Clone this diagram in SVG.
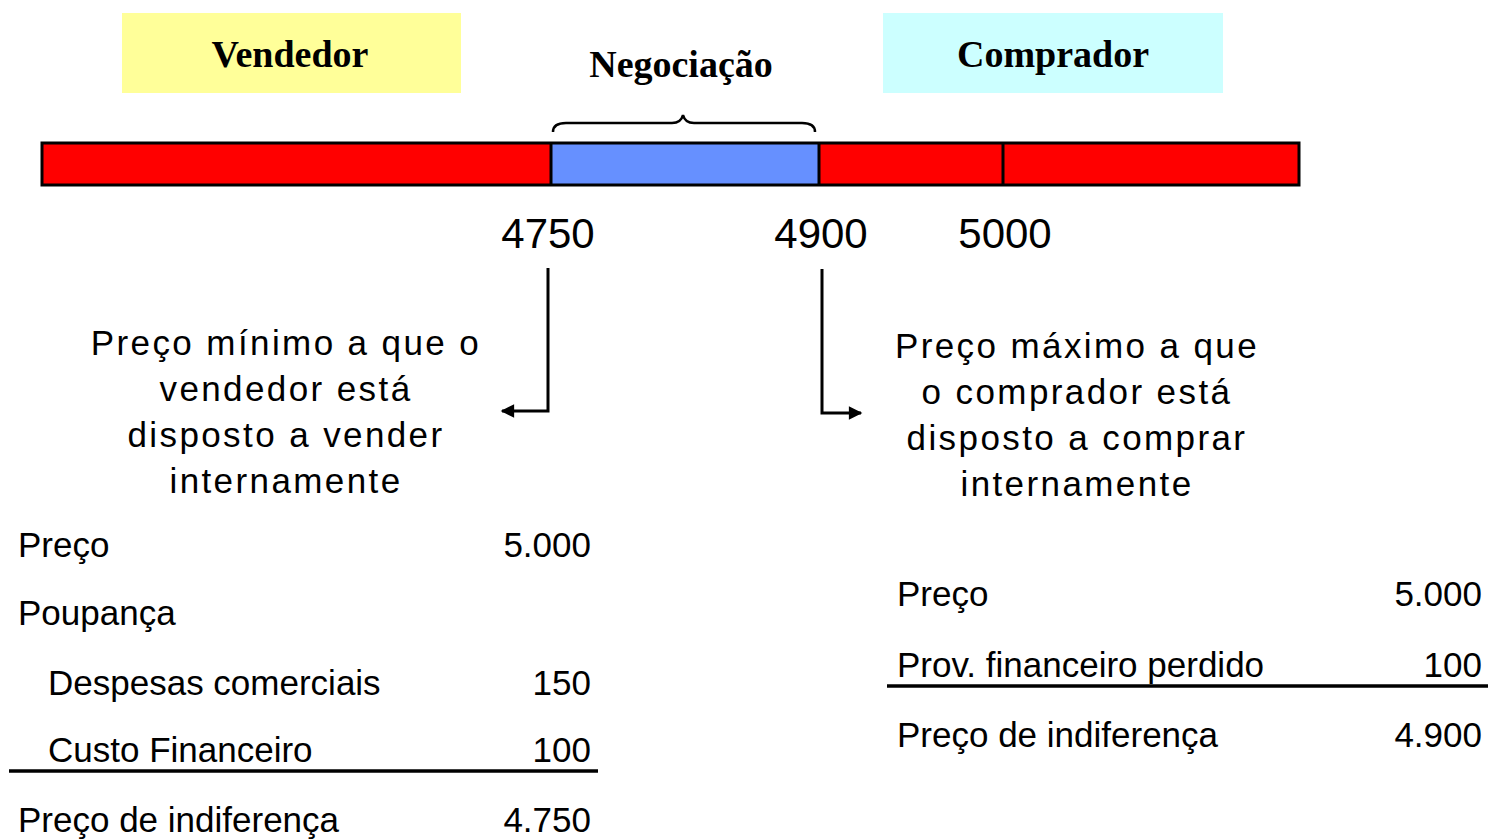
<svg xmlns="http://www.w3.org/2000/svg" width="1488" height="840" viewBox="0 0 1488 840">
<style>
.hdr{font-family:"Liberation Serif",serif;font-weight:bold;font-size:38px;fill:#000;text-anchor:middle}
.num{font-family:"Liberation Sans",Arial,sans-serif;font-size:42px;fill:#000;text-anchor:middle}
.lbl{font-family:"Liberation Sans",Arial,sans-serif;font-size:35px;letter-spacing:2.4px;fill:#000;text-anchor:middle}
.tb{font-family:"Liberation Sans",Arial,sans-serif;font-size:35px;fill:#000}
.r{text-anchor:end}
.seg{stroke:#000;stroke-width:3}
.conn{fill:none;stroke:#000;stroke-width:3}
</style>
<defs>
<marker id="ah" viewBox="0 0 10 10" refX="9" refY="5" markerWidth="5" markerHeight="4.5" orient="auto-start-reverse" markerUnits="strokeWidth">
<path d="M0,0 L10,5 L0,10 z" fill="#000"/>
</marker>
</defs>
<rect width="1488" height="840" fill="#fff"/>
<g id="vendedor">
<rect x="122" y="13" width="339" height="80" fill="#ffff99"/>
<text class="hdr" x="290" y="67">Vendedor</text>
</g>
<g id="comprador">
<rect x="883" y="13" width="340" height="80" fill="#ccffff"/>
<text class="hdr" x="1053" y="67">Comprador</text>
</g>
<g id="negociacao">
<text class="hdr" x="681" y="77">Negociação</text>
<path d="M553,132 Q553,123 566,123 L672,123 Q681,123 683,115 Q685,123 694,123 L802,123 Q815,123 815,132" fill="none" stroke="#000" stroke-width="2.5"/>
</g>
<g id="bar">
<rect x="42" y="143" width="509" height="42" fill="#ff0000"/>
<rect x="551" y="143" width="268" height="42" fill="#6690ff"/>
<rect x="819" y="143" width="480" height="42" fill="#ff0000"/>
<line class="seg" x1="551" y1="143" x2="551" y2="185"/>
<line class="seg" x1="819" y1="143" x2="819" y2="185"/>
<line class="seg" x1="1003" y1="143" x2="1003" y2="185"/>
<rect x="42" y="143" width="1257" height="42" fill="none" stroke="#000" stroke-width="3"/>
</g>
<g id="labels">
<text class="num" x="548" y="248">4750</text>
<text class="num" x="821" y="248">4900</text>
<text class="num" x="1005" y="248">5000</text>
</g>
<g id="connectors">
<path class="conn" d="M548,268 L548,411 L502,411" marker-end="url(#ah)"/>
<path class="conn" d="M822,269 L822,413 L861,413" marker-end="url(#ah)"/>
</g>
<g id="min-text">
<text class="lbl" x="286" y="355">Preço mínimo a que o</text>
<text class="lbl" x="286" y="401">vendedor  está</text>
<text class="lbl" x="286" y="447">disposto a vender</text>
<text class="lbl" x="286" y="493">internamente</text>
</g>
<g id="max-text">
<text class="lbl" x="1077" y="358">Preço máximo a que</text>
<text class="lbl" x="1077" y="404">o comprador  está</text>
<text class="lbl" x="1077" y="450">disposto a comprar</text>
<text class="lbl" x="1077" y="496">internamente</text>
</g>
<g id="seller-table">
<text class="tb" x="18" y="557">Preço</text>
<text class="tb r" x="591" y="557">5.000</text>
<text class="tb" x="18" y="625">Poupança</text>
<text class="tb" x="48" y="695">Despesas comerciais</text>
<text class="tb r" x="591" y="695">150</text>
<text class="tb" x="48" y="762">Custo Financeiro</text>
<text class="tb r" x="591" y="762">100</text>
<line x1="9" y1="771" x2="598" y2="771" stroke="#000" stroke-width="3.5"/>
<text class="tb" x="18" y="832">Preço de indiferença</text>
<text class="tb r" x="591" y="832">4.750</text>
</g>
<g id="buyer-table">
<text class="tb" x="897" y="606">Preço</text>
<text class="tb r" x="1482" y="606">5.000</text>
<text class="tb" x="897" y="677">Prov. financeiro perdido</text>
<text class="tb r" x="1482" y="677">100</text>
<line x1="887" y1="686" x2="1488" y2="686" stroke="#000" stroke-width="3.5"/>
<text class="tb" x="897" y="747">Preço de indiferença</text>
<text class="tb r" x="1482" y="747">4.900</text>
</g>
</svg>
